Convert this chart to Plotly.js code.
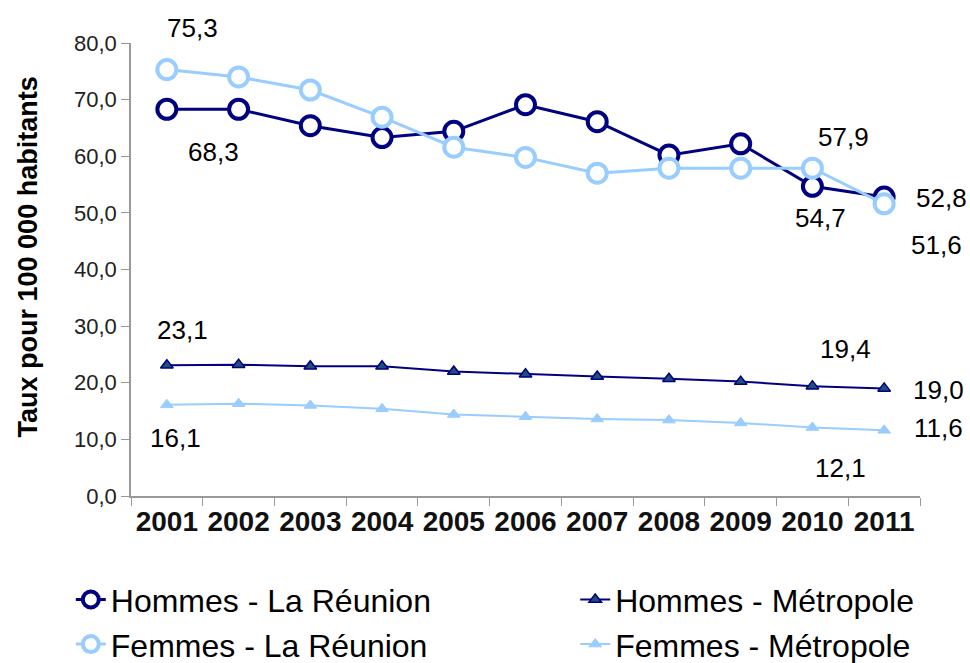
<!DOCTYPE html>
<html><head><meta charset="utf-8">
<script src="https://cdn.plot.ly/plotly-3.0.1.min.js"></script>
<style>body{margin:0;background:#fff}#c{width:970px;height:663px}</style>
</head><body><div id="c"></div>
<script>
const years = ['2001','2002','2003','2004','2005','2006','2007','2008','2009','2010','2011'];
const hommesReunion = [68.3,68.3,65.4,63.3,64.4,69.1,66.1,60.2,62.2,54.7,52.8];
const femmesReunion = [75.3,74.0,71.7,66.9,61.6,59.8,57.0,57.9,57.9,57.9,51.6];
const hommesMetropole = [23.1,23.2,22.9,22.9,22.0,21.5,21.1,20.7,20.2,19.4,19.0];
const femmesMetropole = [16.1,16.3,16.0,15.4,14.4,14.0,13.6,13.4,12.9,12.1,11.6];
const yTicks = [0,10,20,30,40,50,60,70,80];
const yTitle = 'Taux pour 100 000 habitants';

const F = 'Liberation Sans, Arial, sans-serif';
const navy = '#000080', light = '#99CCFF';
const traces = [
 {x:years,y:hommesReunion,name:'Hommes - La Réunion',mode:'lines+markers',legend:'legend',
  line:{color:navy,width:3},marker:{symbol:'circle',size:19,color:'#fff',line:{color:navy,width:4}}},
 {x:years,y:femmesReunion,name:'Femmes - La Réunion',mode:'lines+markers',legend:'legend',
  line:{color:light,width:3},marker:{symbol:'circle',size:19,color:'#fff',line:{color:light,width:4}}},
 {x:years,y:hommesMetropole,name:'Hommes - Métropole',mode:'lines+markers',legend:'legend2',
  line:{color:navy,width:2},marker:{symbol:'triangle-up',size:11,color:'#1F4E79',line:{color:navy,width:1.5}}},
 {x:years,y:femmesMetropole,name:'Femmes - Métropole',mode:'lines+markers',legend:'legend2',
  line:{color:light,width:2},marker:{symbol:'triangle-up',size:11,color:light,line:{color:light,width:1}}}
];
function fmt(v){return v.toFixed(1).replace('.',',');}
function lab(arr,i,xs,ys){return {x:i,y:arr[i],xref:'x',yref:'y',text:fmt(arr[i]),showarrow:false,xshift:xs,yshift:ys,
  font:{family:F,size:26,color:'#000'}};}
const annotations = [
 lab(femmesReunion,0,26,42),
 lab(hommesReunion,0,47,-43),
 lab(femmesReunion,9,31,31),
 lab(hommesReunion,9,8,-32),
 lab(hommesReunion,10,57,-1),
 lab(femmesReunion,10,52,-41),
 lab(hommesMetropole,0,16,35),
 lab(femmesMetropole,0,9,-33),
 lab(hommesMetropole,9,33,37),
 lab(hommesMetropole,10,54,-2),
 lab(femmesMetropole,10,54,2),
 lab(femmesMetropole,9,28,-41),
 {xref:'paper',yref:'paper',x:-0.131,y:0.528,xanchor:'center',yanchor:'middle',textangle:-90,showarrow:false,
  text:'<b>'+yTitle+'</b>',font:{family:F,size:27,color:'#000'}}
];
const legFont = {family:F,size:32,color:'#000'};
const layout = {
 width:970,height:663,margin:{l:131,r:50,t:43,b:167,autoexpand:false},
 paper_bgcolor:'#fff',plot_bgcolor:'#fff',separators:', ',showlegend:true,
 font:{family:F,color:'#000'},
 xaxis:{type:'category',showgrid:false,showline:true,linecolor:'#999',linewidth:1.5,
  ticks:'outside',tickson:'boundaries',ticklen:8,tickcolor:'#999',
  tickfont:{family:F,size:28,color:'#111',weight:'bold'},
  range:[-0.5,10.5],zeroline:false},
 yaxis:{range:[0,80],tickvals:yTicks,tickformat:'.1f',ticksuffix:'\u2003',showgrid:false,showline:true,linecolor:'#999',linewidth:1.5,
  ticks:'outside',ticklen:8,tickcolor:'#999',zeroline:false,
  tickfont:{family:F,size:22,color:'#222'}},
 legend:{xref:'container',yref:'container',x:0.073,y:0.137,xanchor:'left',yanchor:'top',orientation:'v',
  font:legFont,bgcolor:'rgba(0,0,0,0)',tracegroupgap:0},
 legend2:{xref:'container',yref:'container',x:0.593,y:0.137,xanchor:'left',yanchor:'top',orientation:'v',
  font:legFont,bgcolor:'rgba(0,0,0,0)',tracegroupgap:0},
 annotations:annotations
};
Plotly.newPlot('c',traces,layout,{displayModeBar:false});
</script></body></html>
